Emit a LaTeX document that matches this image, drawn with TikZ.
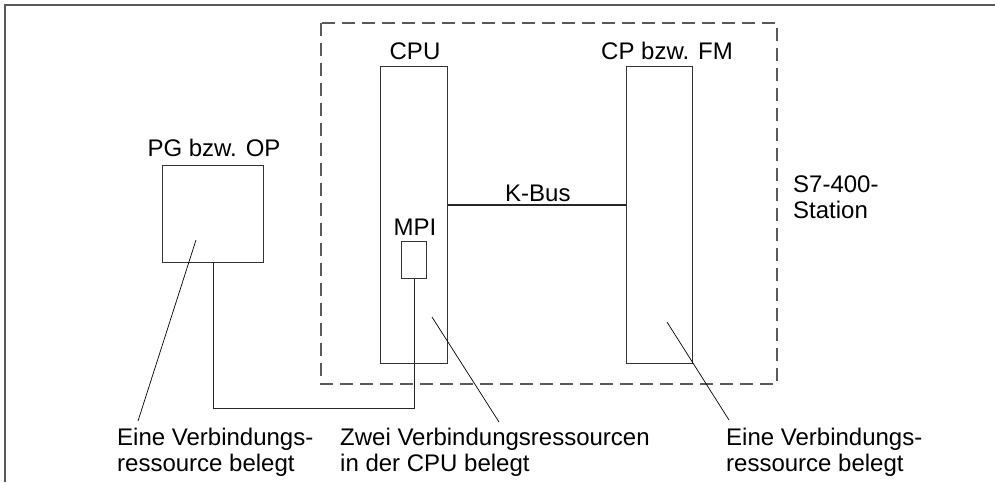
\documentclass[tikz,border=0pt]{standalone}
\usepackage{fontspec}
\setmainfont{Liberation Sans}
\begin{document}
\begin{tikzpicture}[x=1pt,y=-1pt,
  lbl/.style={inner sep=0pt,font=\fontsize{24}{26}\selectfont},
  mlbl/.style={lbl,align=left,anchor=north west},
  unit/.style={draw=black!80,line width=1.3pt,inner sep=0pt,anchor=north west},
  frame/.style={draw=black!65,line width=1.6pt},
  station/.style={draw=black!65,line width=1.6pt,dash pattern=on 13pt off 7pt},
  leader/.style={draw=black,line width=0.7pt},
  wire/.style={draw=black!85,line width=1.3pt}]
\useasboundingbox (0,0) rectangle (995,482);
% outer frame (open on right and bottom)
\draw[frame] (5,482) -- (5,5) -- (995,5);
% S7-400 station
\draw[station] (321,23) rectangle (777,384);
% units
\node[unit,minimum width=67pt,minimum height=297pt] (cpu) at (380,66) {};
\node[unit,minimum width=66pt,minimum height=297pt] (cp) at (626,66) {};
\node[unit,minimum width=25pt,minimum height=37pt] (mpi) at (401,241) {};
\node[unit,minimum width=101pt,minimum height=97pt] (pg) at (162,165) {};
% titles
\node[lbl,anchor=base] (tcpu) at (415,59) {CPU};
\node[lbl,anchor=base] (tcp) at (667,59) {CP bzw. FM};
\node[lbl,anchor=base] (tmpi) at (415,235) {MPI};
\node[lbl,anchor=base] (tpg) at (214,156) {PG bzw. OP};
\node[lbl,anchor=base west] (tkbus) at (505,201) {K-Bus};
\node[mlbl] (tst) at (793,176) {S7-400-\\Station};
% K-Bus
\coordinate (kb) at (0,205);
\draw[wire] (cpu.east |- kb) -- (cp.west |- kb);
% MPI connection
\draw[wire] (pg.south) -- ++(0,145) -| (mpi.south);
% bottom labels
\node[mlbl] (la) at (117,428) {Eine Verbindungs-\\ressource belegt};
\node[mlbl] (lb) at (340,428) {Zwei Verbindungsressourcen\\in der CPU belegt};
\node[mlbl] (lc) at (726,428) {Eine Verbindungs-\\ressource belegt};
% leaders
\coordinate (a1) at (196,240); \coordinate (a2) at (138,421);
\coordinate (b1) at (432,317); \coordinate (b2) at (499,422);
\coordinate (c1) at (667,322); \coordinate (c2) at (729,420);
\draw[leader] (a1) -- (a2);
\draw[leader] (b1) -- (b2);
\draw[leader] (c1) -- (c2);
\end{tikzpicture}
\end{document}
